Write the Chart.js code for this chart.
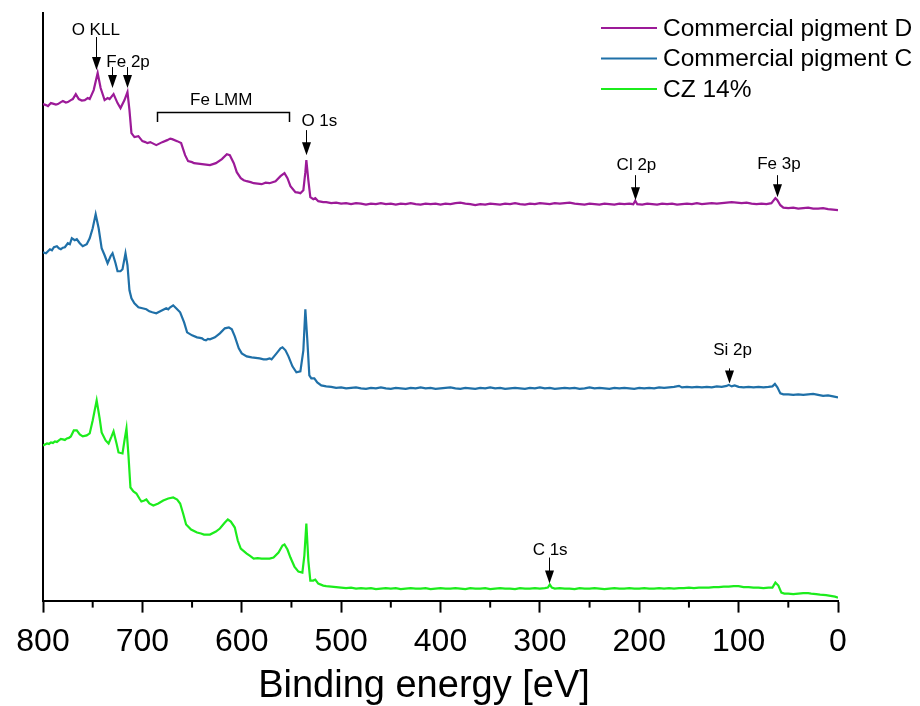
<!DOCTYPE html>
<html>
<head>
<meta charset="utf-8">
<script src="https://cdn.jsdelivr.net/npm/chart.js@4.4.1/dist/chart.umd.min.js"></script>
<style>
  html, body { margin: 0; padding: 0; background: #fff; }
  #wrap { width: 920px; height: 706px; }
</style>
</head>
<body>
<div id="wrap"><canvas id="xps" width="920" height="706"></canvas></div>
<script>
// XPS survey spectra: [binding energy (eV), intensity (arb. units, offset per spectrum)]
const pigmentD = [
  [800,496],[797,495],[795,494],[792,497],[790,496.5],[787,495.5],[785,496],[782,498],[780,499],[777,497.5],[775,498],[772,500],[770,501],[767,506],[764,501],[761,499.5],[758,500],[755,502],[753,501],
  [749,510],[745,527],[742,512],[738,500],[735,502],[733,501],[729,506],[725,497],[722,492],[718,500],[715,508],[713,490],[711,467],[708,463],[704,464],[700,459],[697,458],[695,457],[692,458],[690,457],[686,455],
  [680,458],[675,460],[672,461.5],[670,461],[665,459],[661,457],[657,445],[654,439],[650,438],[648,437],[644,436.5],[640,436],[636,435.5],[632,435],[626,437],[620,441],[615,446],[612,445],[608,437],[605,428],[601,422],
  [598,420],[595,419],[591,418],[588,417],[584,416.5],[580,416],[576,417.5],[572,417],[569,418],[566,419],[561,424],[557,427],[554,422],[551,414],[546,408],[543,407.5],[541,407],[538,410],[536,428],[535,440],[533,420],
  [531,403],[528,401],[526,402],[523,399],[518,398],
  [515,398],[510,397],[505,397.5],[500,396.5],[495,397],[490,396],[485,397],[480,396.5],[475,395.5],[470,396.5],[465,396],[460,397],[455,396],[450,396.5],[445,395.5],[440,396.5],[435,396],[430,397],[425,396],[420,395.5],
  [415,396.5],[410,396],[405,396.5],[400,395.5],[395,396.5],[390,396],[385,397],[380,397.5],[375,396.5],[370,396],[365,395],[360,396],[355,395.5],[350,396.5],[345,396],[340,395.5],[335,396.5],[330,396],[325,397],[320,396],
  [315,395.5],[310,396.5],[305,396],[300,397],[295,396.5],[290,396],[285,397],[280,396.5],[275,397],[270,397.5],[265,396.5],[260,396],[255,395.5],[250,396.5],[245,396],[240,395.5],[235,396.5],[230,396],[225,395.5],[220,396.5],
  [215,396],[210,396.5],[206,396],[204,399.5],[202,396],[197,395.5],[192,396.5],[187,396],[182,395.5],[177,396.5],[172,396],[167,396.5],[162,395.5],[157,396],[152,396.5],[147,396],[142,397],[137,396],[132,396.5],[127,397],
  [122,396.5],[117,397],[112,397.5],[107,398],[102,397.5],[97,397],[92,397.5],[87,396.5],[82,396],[77,396.5],[72,396],[67,397],[63,402],[61,400],[58,395],[55,392.5],[50,392],[45,392.5],[40,391.5],[35,392],
  [30,392.5],[25,391.5],[20,391.5],[15,392],[10,391],[5,390.5],[0,390]
];

const pigmentC = [
  [800,348],[797,347],[795,349],[793,351],[791,350],[789,353],[786,354],[784,352],[782,351],[780,352.5],[778,353],[775,357],[773,356],[771,362],[768,360],[766,361],[763,357],[760,354],[756,356],[753,362],
  [750,372],[747,386],[744,372],[741,352],[738,345],[735,337],[732,344],[730,347],[727,337],[725,329],[722,329],[720,331],[717,347],[715,335],[713,310],[711,302],[708,297],[704,293],[700,292],[696,291],
  [693,289],[690,288],[686,287],[683,288.5],[680,290],[676,292],[674,291],[672,293],[669,295],[666,292],[662,288],[658,278],[655,268],[650,265],[645,263],[642,262.5],[640,262],[638,260.5],[636,260],[634,261.5],
  [632,261],[627,263],[622,267],[617,272],[613,273],[610,271],[607,264],[603,252],[600,247],[595,244],[590,243],[586,242.5],[582,242],[578,241],[575,241],[572,242],[570,241],[565,247],[561,252],[559,253],
  [556,250],[553,244],[549,234],[545,228],[541,229],[538,250],[536,291],[534,260],[532,225],[530,222],[527,222],[524,218],
  [520,215],[515,214],[510,213.5],[505,212.5],[500,213],[495,212],[490,212.5],[485,213],[480,212],[475,211.5],[470,212.5],[465,212],[460,213],[455,212],[450,211.5],[445,212.5],[440,212],[435,211.5],[430,212.5],[425,212],
  [420,213],[415,212],[410,212.5],[405,211.5],[400,212],[395,212.5],[390,213],[385,212],[380,211.5],[375,212.5],[370,212],[365,211.5],[360,212.5],[355,212],[350,213],[345,212],[340,212.5],[335,211.5],[330,212],[325,212.5],
  [320,212],[315,211.5],[310,212.5],[305,212],[300,213],[295,212],[290,212.5],[285,211.5],[280,212],[275,212.5],[270,212],[265,212.5],[260,211.5],[255,212],[250,213],[245,212],[240,212.5],[235,212],[230,211.5],[225,212.5],
  [220,212],[215,212.5],[210,212],[205,211.5],[200,212.5],[195,212],[190,212.5],[185,212],[180,213],[175,212.5],[170,213],[165,213.5],[160,214.5],[157,213],[152,213.5],[147,213],[142,213.5],[137,213],[132,213.5],[127,213],
  [122,214],[117,213.5],[112,214.5],[110,215.5],[107,214],[104,215],[100,213.5],[95,213],[90,213.5],[85,213],[80,213.5],[75,213],[70,213.5],[66,214],[63.5,216.5],[61,213],[58,207],[55,206],[50,206],[45,205.5],
  [40,206],[35,205.5],[30,206],[25,206.5],[20,205.5],[15,204.5],[10,205],[5,204],[0,203]
];

const cz14 = [
  [800,155],[796,157],[794,156.5],[792,158],[790,157.5],[788,159],[786,158.5],[784,160],[782,161.5],[780,161],[778,160.5],[776,162],[774,162.5],[772,164],[769,170],[766,170],[763,166],[760,164],[756,165],[753,167],
  [750,180],[746,200],[743,182],[741,168],[737,160],[734,157],[731,164],[729,169],[726,157],[724,148],[720,147],[718,160],[716,172],[714,145],[712,113],[709,109],[706,107],[703,102],[701,99],[698,100],
  [696,101],[693,97],[689,95],[684,97],[679,100],[674,102],[669,103],[665,101],[662,97],[659,87],[656,76],[651,71],[645,68],[641,67],[638,66],[632,66],[626,69],[622,72],[617,78],[614,81],
  [611,79],[607,73],[604,60],[601,52],[595,47],[592,45],[588,42],[584,42.5],[580,42],[576,42],[572,42],[568,43],[563,48],[559,55],[557,56],[554,51],[551,43],[547,34],[543,29],[539,28],
  [537,45],[535,77],[533,40],[531,20],[528,20],[526,21],[523,17],
  [518,15],[515,14.5],[510,14],[505,13.5],[500,13],[495,12.5],[490,13],[485,12],[480,12.5],[475,12],[470,12.5],[465,11.5],[460,12],[455,12.5],[450,12],[445,12.5],[440,11.5],[435,12],[430,12.5],[425,12],
  [420,12],[415,12.5],[410,11.5],[405,12],[400,12.5],[395,12],[390,12],[385,12.5],[380,12],[375,11.5],[370,12.5],[365,12],[360,12],[355,12.5],[350,11.5],[345,12],[340,12.5],[335,12],[330,12],[325,11.5],
  [320,12.5],[315,12],[310,12],[305,12.5],[300,12],[295,12.5],[292,13],[290,16],[288,13],[285,12],[280,12.5],[275,12],[270,12],[265,11.5],[260,12.5],[255,12],[250,12],[245,12.5],[240,12],[235,11.5],
  [230,12],[225,12.5],[220,12],[215,12],[210,12.5],[205,12],[200,12],[195,12.5],[190,12],[185,12],[180,12.5],[175,12],[170,12.5],[165,12],[160,12.5],[155,12.5],[150,13],[145,12.5],[140,13],[135,13],
  [130,13],[125,13.5],[120,13.5],[115,14],[110,14],[105,14.5],[100,14.5],[95,13.5],[90,13.5],[85,13],[80,13],[75,12.5],[70,13],[66,13],[63,18],[60,15],[57,8],[54,7],[50,7],[45,6.5],
  [40,7],[35,7.5],[30,7.5],[27,7],[22,6.5],[18,6],[12,5.5],[6,4.5],[3,4],[0,3]
];

const seriesNames = ['Commercial pigment D', 'Commercial pigment C', 'CZ 14%'];
const seriesData = [pigmentD, pigmentC, cz14];
const seriesColors = ['#9c1a98', '#1f70a8', '#1cec1c'];
const xTitle = 'Binding energy [eV]';

const FONT = '"Liberation Sans", Arial, sans-serif';

// peak labels: text position and arrow (eV, intensity)
const peakLabels = [
  { text: 'O KLL', tx: 746.9, ty: 570, ax: 746.9, ay1: 563, ay2: 530 },
  { text: 'Fe 2p', tx: 714.4, ty: 538, ax: 730.2, ay1: 533, ay2: 512 },
  { text: null, ax: 715.7, ay1: 533, ay2: 512 },
  { text: 'O 1s', tx: 521.9, ty: 479, ax: 535.3, ay1: 470, ay2: 445 },
  { text: 'Cl 2p', tx: 202.8, ty: 435, ax: 204.5, ay1: 425, ay2: 400 },
  { text: 'Fe 3p', tx: 59.4, ty: 436, ax: 61.8, ay1: 425, ay2: 403 },
  { text: 'Si 2p', tx: 106.1, ty: 250, ax: 109.5, ay1: 232, ay2: 217 },
  { text: 'C 1s', tx: 289.7, ty: 50, ax: 290.9, ay1: 43, ay2: 17 }
];

const peakPlugin = {
  id: 'peaks',
  afterDatasetsDraw(chart) {
    const ctx = chart.ctx;
    const xs = chart.scales.x, ys = chart.scales.y;
    ctx.save();
    ctx.fillStyle = '#000';
    ctx.strokeStyle = '#000';
    ctx.lineWidth = 1;
    ctx.font = '17px ' + FONT;
    ctx.textAlign = 'center';
    ctx.textBaseline = 'middle';
    peakLabels.forEach(p => {
      if (p.text) ctx.fillText(p.text, xs.getPixelForValue(p.tx), ys.getPixelForValue(p.ty));
      const x = Math.round(xs.getPixelForValue(p.ax)) + 0.5;
      const y1 = ys.getPixelForValue(p.ay1);
      const y2 = ys.getPixelForValue(p.ay2);
      ctx.beginPath();
      ctx.moveTo(x, y1);
      ctx.lineTo(x, y2 - 12);
      ctx.stroke();
      ctx.beginPath();
      ctx.moveTo(x - 4.5, y2 - 13);
      ctx.lineTo(x + 4.5, y2 - 13);
      ctx.lineTo(x, y2);
      ctx.closePath();
      ctx.fill();
    });

    // Fe LMM bracket
    const bl = Math.round(xs.getPixelForValue(685.1)) + 0.5;
    const br = Math.round(xs.getPixelForValue(552.1)) + 0.5;
    const bt = Math.round(ys.getPixelForValue(488)) + 0.5;
    const bb = ys.getPixelForValue(478);
    ctx.lineWidth = 1.5;
    ctx.beginPath();
    ctx.moveTo(bl, bb);
    ctx.lineTo(bl, bt);
    ctx.lineTo(br, bt);
    ctx.lineTo(br, bb);
    ctx.stroke();
    ctx.fillText('Fe LMM', xs.getPixelForValue(620.7), ys.getPixelForValue(500));

    // minor ticks every 50 eV
    ctx.lineWidth = 2;
    const yb = chart.chartArea.bottom;
    for (let e = 50; e < 800; e += 100) {
      const x = xs.getPixelForValue(e);
      ctx.beginPath();
      ctx.moveTo(x, yb);
      ctx.lineTo(x, yb + 7);
      ctx.stroke();
    }

    // axis title, centred on the figure rather than the axis
    ctx.font = '38px ' + FONT;
    ctx.textBaseline = 'alphabetic';
    ctx.fillText(xTitle, 424, 697);

    // legend
    ctx.font = '24.5px ' + FONT;
    ctx.textAlign = 'left';
    ctx.textBaseline = 'middle';
    chart.data.datasets.forEach((ds, i) => {
      const y = 28 + i * 30.5;
      ctx.strokeStyle = ds.borderColor;
      ctx.lineWidth = 2;
      ctx.beginPath();
      ctx.moveTo(601, y);
      ctx.lineTo(657, y);
      ctx.stroke();
      ctx.fillStyle = '#000';
      ctx.fillText(ds.label, 663, y + 1);
    });
    ctx.restore();
  }
};

new Chart(document.getElementById('xps'), {
  type: 'line',
  data: {
    datasets: seriesData.map((pts, i) => ({
      label: seriesNames[i],
      data: pts.map(p => ({ x: p[0], y: p[1] })),
      borderColor: seriesColors[i]
    }))
  },
  options: {
    responsive: false,
    animation: false,
    devicePixelRatio: 1,
    layout: { padding: { left: 43, right: 82, top: 13, bottom: 35 } },
    elements: {
      line: { borderWidth: 2.2, tension: 0, fill: false },
      point: { radius: 0 }
    },
    plugins: {
      legend: { display: false },
      tooltip: { enabled: false }
    },
    scales: {
      x: {
        type: 'linear',
        min: 0,
        max: 800,
        reverse: true,
        ticks: { stepSize: 100, color: '#000', font: { family: FONT, size: 32 }, padding: 10, maxRotation: 0 },
        grid: { drawOnChartArea: false, drawTicks: true, tickLength: 12, tickColor: '#000', tickWidth: 2 },
        border: { color: '#000', width: 2 },
        title: { display: false }
      },
      y: {
        min: 0,
        max: 587,
        ticks: { display: false },
        grid: { drawOnChartArea: false, drawTicks: false },
        border: { color: '#000', width: 2 }
      }
    }
  },
  plugins: [peakPlugin]
});
</script>
</body>
</html>
